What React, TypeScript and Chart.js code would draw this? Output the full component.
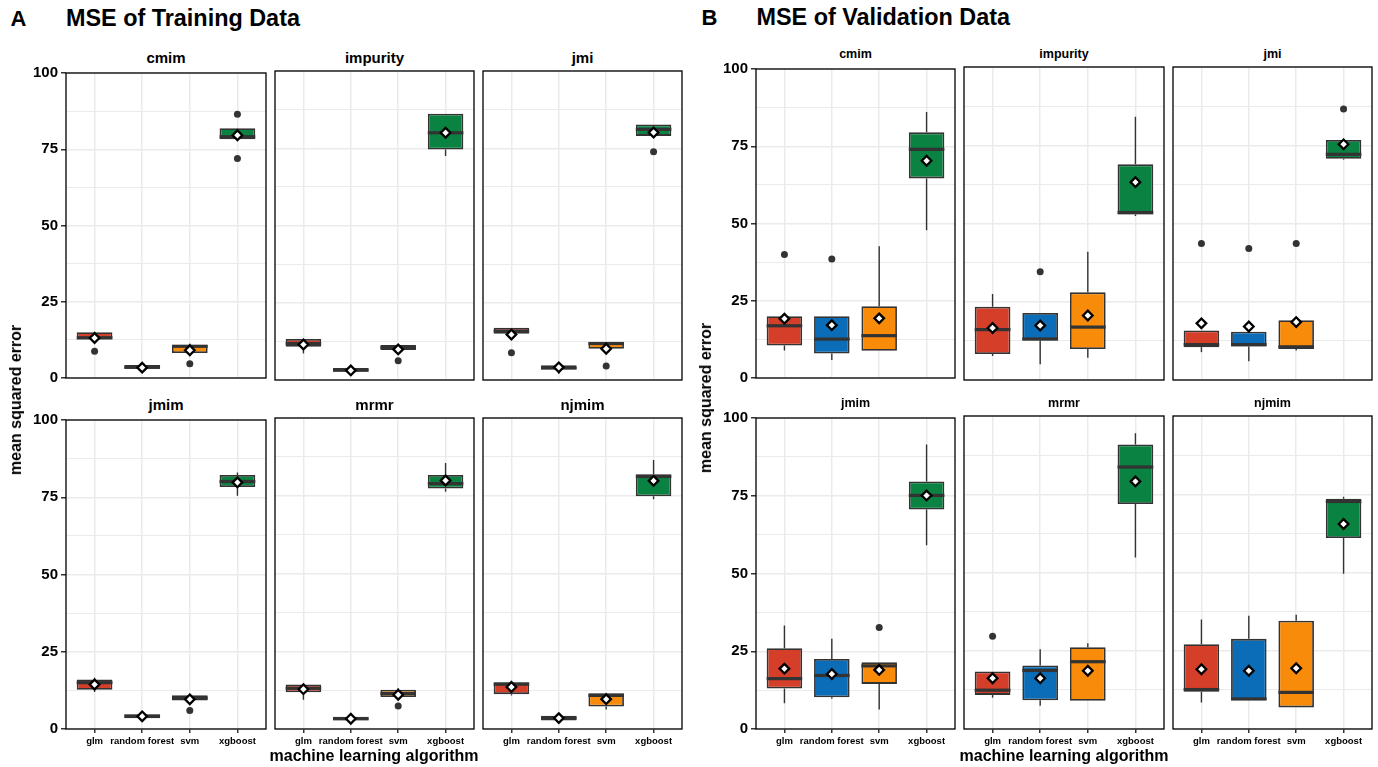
import React, { useEffect, useRef } from "react";
import { Chart, registerables } from "chart.js";

Chart.register(...registerables);

// ---------------- data ----------------
const ALGORITHMS = ["glm", "random forest", "svm", "xgboost"];
const METHODS = ["cmim", "impurity", "jmi", "jmim", "mrmr", "njmim"];
const Y_TICKS = [0, 12.5, 25, 37.5, 50, 62.5, 75, 87.5, 100];

// Training data — one row per feature-selection method, columns: glm, random forest, svm, xgboost
const trainQ1 = [
  [12.6, 3.0, 8.2, 78.3],
  [10.8, 2.7, 9.7, 74.6],
  [15.0, 3.4, 10.1, 79.0],
  [12.7, 3.5, 9.2, 78.3],
  [11.8, 2.8, 10.3, 77.3],
  [11.2, 2.7, 7.2, 74.8],
];
const trainMed = [
  [13.2, 3.5, 10.4, 79.1],
  [11.8, 3.2, 10.5, 80.0],
  [15.8, 3.9, 11.8, 81.1],
  [15.0, 4.2, 10.0, 80.1],
  [13.1, 3.3, 11.4, 78.9],
  [14.4, 3.5, 10.8, 81.2],
];
const trainQ3 = [
  [15.0, 4.3, 10.8, 81.9],
  [13.3, 3.9, 11.3, 86.2],
  [16.9, 4.8, 12.2, 82.7],
  [16.0, 4.7, 10.9, 82.2],
  [14.3, 3.9, 12.6, 81.7],
  [15.0, 4.3, 11.5, 81.9],
];
const trainLo = [
  [12.3, 2.4, 8.0, 78.0],
  [8.6, 2.0, 9.7, 72.5],
  [15.0, 2.0, 10.1, 79.0],
  [12.0, 2.6, 9.2, 75.5],
  [9.4, 2.8, 10.3, 76.3],
  [10.8, 2.7, 6.3, 73.9],
];
const trainHi = [
  [15.2, 4.5, 11.2, 82.0],
  [13.3, 3.9, 11.3, 86.2],
  [16.9, 5.0, 12.2, 82.7],
  [16.6, 4.8, 11.4, 83.0],
  [14.3, 3.9, 13.1, 85.5],
  [15.5, 4.3, 11.5, 86.5],
];
const trainMean = [
  [13.1, 3.4, 9.1, 79.6],
  [11.5, 3.1, 9.9, 80.0],
  [14.7, 4.1, 10.1, 80.1],
  [14.4, 4.1, 9.6, 79.8],
  [12.8, 3.3, 11.0, 79.9],
  [13.5, 3.5, 9.6, 79.8],
];
const trainOut = [
  [[8.8], [], [4.7], [86.5, 72.0]],
  [[], [], [6.2], []],
  [[8.8], [], [4.5], [73.9]],
  [[], [], [6.0], []],
  [[], [], [7.4], []],
  [[], [], [], []],
];

// Validation data
const validQ1 = [
  [10.5, 7.9, 8.8, 64.6],
  [8.3, 12.6, 9.9, 52.9],
  [10.5, 10.7, 9.9, 70.7],
  [13.0, 10.2, 14.5, 70.6],
  [10.9, 9.2, 9.0, 71.9],
  [11.9, 9.2, 6.9, 61.0],
];
const validMed = [
  [16.9, 12.6, 13.7, 74.0],
  [16.1, 13.1, 16.9, 53.5],
  [11.3, 11.3, 10.6, 72.1],
  [16.2, 17.2, 20.3, 75.1],
  [12.4, 18.7, 21.5, 83.7],
  [12.6, 9.6, 11.7, 72.7],
];
const validQ3 = [
  [20.0, 20.0, 23.2, 79.5],
  [23.4, 21.4, 28.0, 68.9],
  [15.8, 15.4, 19.1, 76.7],
  [26.0, 22.5, 21.5, 79.6],
  [18.4, 20.3, 26.1, 90.9],
  [27.1, 28.8, 34.6, 73.6],
];
const validLo = [
  [8.9, 5.8, 8.8, 47.8],
  [7.7, 5.0, 7.1, 52.4],
  [8.9, 6.0, 9.4, 70.4],
  [8.3, 9.7, 6.3, 59.1],
  [10.0, 7.4, 9.0, 54.8],
  [8.5, 9.2, 6.9, 49.6],
];
const validHi = [
  [20.0, 20.0, 42.6, 86.1],
  [27.5, 21.4, 41.0, 84.1],
  [15.8, 15.4, 19.1, 76.7],
  [33.3, 29.0, 21.5, 91.5],
  [18.4, 25.5, 27.4, 94.5],
  [35.0, 36.2, 36.5, 74.2],
];
const validMean = [
  [19.2, 17.1, 19.3, 70.3],
  [16.6, 17.4, 20.6, 63.2],
  [18.1, 17.1, 18.5, 75.3],
  [19.4, 17.7, 19.0, 75.1],
  [16.2, 16.2, 18.6, 79.1],
  [19.1, 18.6, 19.4, 65.5],
];
const validOut = [
  [[40.0], [38.5], [], []],
  [[], [34.6], [], []],
  [[43.6], [42.0], [43.6], [86.6]],
  [[], [], [32.6], []],
  [[29.6], [], [], []],
  [[], [], [], []],
];

// ---------------- styling / layout ----------------
const FONT = '"Liberation Sans", Arial, Helvetica, sans-serif';
const FILLS = ["#D53E28", "#0B6DB7", "#F98B0B", "#0A8241"];
const GRID = "#EBEBEB";
const DARK = "#333333";
const PAD = { l: 12, r: 12, t: 10, b: 10 };

const A_COLS: [number, number][] = [[66, 266], [275, 474], [483, 682]];
const A_ROWS: [number, number][] = [[71, 380], [418, 729]];
const B_COLS: [number, number][] = [[756, 955], [964, 1164], [1173, 1372]];
const B_ROWS: [number, number][] = [[67, 380], [416, 729]];

type PanelProps = {
  l: number; r: number; t: number; b: number;
  showY: boolean; showX: boolean;
  q1: number[]; med: number[]; q3: number[];
  lo: number[]; hi: number[]; mean: number[]; out: number[][];
};

function BoxPanel(p: PanelProps) {
  const ref = useRef<HTMLCanvasElement>(null);
  const yW = p.showY ? 50 : 0;
  const xH = p.showX ? 26 : 0;
  const cw = p.r - p.l + PAD.l + PAD.r + yW;
  const ch = p.b - p.t + PAD.t + PAD.b + xH;
  const cl = p.l - PAD.l - yW;
  const ct = p.t - PAD.t;

  useEffect(() => {
    const canvas = ref.current;
    if (!canvas) return;
    const { q1, med, q3, lo, hi, mean, out, showX, showY } = p;

    const boxPlugin = {
      id: "boxExtras",
      beforeDatasetsDraw(chart: any) {
        const { ctx, scales } = chart;
        const x = scales.x, y = scales.y;
        ctx.save();
        ctx.strokeStyle = DARK;
        ctx.lineWidth = 1.4;
        ALGORITHMS.forEach((_, i) => {
          const px = x.getPixelForValue(i);
          ctx.beginPath();
          ctx.moveTo(px, y.getPixelForValue(lo[i]));
          ctx.lineTo(px, y.getPixelForValue(q1[i]));
          ctx.moveTo(px, y.getPixelForValue(q3[i]));
          ctx.lineTo(px, y.getPixelForValue(hi[i]));
          ctx.stroke();
        });
        ctx.restore();
      },
      afterDatasetDraw(chart: any, args: any) {
        if (args.index !== 0) return;
        const { ctx, scales } = chart;
        const y = scales.y;
        const meta = chart.getDatasetMeta(0);
        ctx.save();
        ctx.fillStyle = DARK;
        meta.data.forEach((el: any, i: number) => {
          const { x: bx, width: bw } = el.getProps(["x", "width"], true);
          const py = y.getPixelForValue(med[i]);
          ctx.fillRect(bx - bw / 2, py - 1.6, bw, 3.2);
        });
        ctx.restore();
      },
      afterDraw(chart: any) {
        const { ctx, chartArea } = chart;
        ctx.save();
        ctx.strokeStyle = "#000";
        ctx.lineWidth = 1.3;
        ctx.strokeRect(chartArea.left, chartArea.top, chartArea.right - chartArea.left, chartArea.bottom - chartArea.top);
        ctx.restore();
      },
    };

    const outlierPts: { x: number; y: number }[] = [];
    out.forEach((list, i) => list.forEach((v) => outlierPts.push({ x: i, y: v })));

    const chart = new Chart(canvas, {
      type: "bar",
      data: {
        datasets: [
          {
            type: "bar",
            data: ALGORITHMS.map((_, i) => ({ x: i, y: [q1[i], q3[i]] })) as any,
            backgroundColor: FILLS,
            borderColor: DARK,
            borderWidth: 1.8,
            borderSkipped: false,
            barPercentage: 0.75,
            categoryPercentage: 1,
            order: 3,
          } as any,
          {
            type: "scatter",
            data: outlierPts,
            pointRadius: 3.5,
            pointBackgroundColor: DARK,
            pointBorderWidth: 0,
            order: 2,
          } as any,
          {
            type: "scatter",
            data: ALGORITHMS.map((_, i) => ({ x: i, y: mean[i] })),
            pointStyle: "rectRot",
            pointRadius: 4.8,
            pointBackgroundColor: "#FFFFFF",
            pointBorderColor: "#000000",
            pointBorderWidth: 2.3,
            order: 1,
          } as any,
        ],
      },
      options: {
        animation: false,
        responsive: false,
        devicePixelRatio: 1,
        events: [],
        layout: { padding: { left: PAD.l, right: PAD.r, top: PAD.t, bottom: PAD.b } },
        plugins: { legend: { display: false }, tooltip: { enabled: false }, title: { display: false } },
        scales: {
          x: {
            type: "linear",
            min: -0.6,
            max: 3.6,
            offset: false,
            afterBuildTicks: (s: any) => {
              s.ticks = ALGORITHMS.map((_, i) => ({ value: i }));
            },
            afterFit: (s: any) => {
              s.height = xH;
            },
            ticks: {
              display: showX,
              autoSkip: false,
              maxRotation: 0,
              padding: 3,
              color: "#000",
              font: { family: FONT, size: 9.5, weight: "bold" },
              callback: (v: any) => ALGORITHMS[Math.round(Number(v))] ?? "",
            },
            grid: { offset: false, color: GRID, lineWidth: 1.5, drawTicks: showX, tickLength: 4, tickColor: DARK },
            border: { display: false },
          } as any,
          y: {
            type: "linear",
            min: 0,
            max: 100,
            afterBuildTicks: (s: any) => {
              s.ticks = Y_TICKS.map((v) => ({ value: v }));
            },
            afterFit: (s: any) => {
              s.width = yW;
            },
            ticks: {
              display: showY,
              padding: 3,
              color: "#000",
              font: { family: FONT, size: 15, weight: "bold" },
              callback: (v: any) => (Number(v) % 25 === 0 ? String(v) : ""),
            },
            grid: {
              color: GRID,
              lineWidth: (c: any) => (c.tick && c.tick.value % 25 === 0 ? 1.5 : 1.1),
              drawTicks: showY,
              tickLength: 5,
              tickColor: (c: any) => (c.tick && c.tick.value % 25 === 0 ? DARK : "rgba(0,0,0,0)"),
            },
            border: { display: false },
          } as any,
        },
      } as any,
      plugins: [boxPlugin as any],
    });
    return () => chart.destroy();
  }, []);

  return (
    <canvas
      ref={ref}
      width={cw}
      height={ch}
      style={{ position: "absolute", left: cl, top: ct, width: cw, height: ch }}
    />
  );
}

function Label(props: { text: string; x: number; baseline: number; size: number; center?: boolean }) {
  const { text, x, baseline, size, center } = props;
  return (
    <div
      style={{
        position: "absolute",
        left: x,
        top: baseline - 0.8465 * size,
        transform: center ? "translateX(-50%)" : undefined,
        fontFamily: FONT,
        fontWeight: 700,
        fontSize: size,
        lineHeight: size + "px",
        whiteSpace: "nowrap",
        color: "#000",
      }}
    >
      {text}
    </div>
  );
}

function VLabel(props: { text: string; cx: number; cy: number; size: number }) {
  const { text, cx, cy, size } = props;
  return (
    <div
      style={{
        position: "absolute",
        left: cx,
        top: cy,
        transform: "translate(-50%, -50%) rotate(-90deg)",
        fontFamily: FONT,
        fontWeight: 700,
        fontSize: size,
        lineHeight: size + "px",
        whiteSpace: "nowrap",
        color: "#000",
      }}
    >
      {text}
    </div>
  );
}

function Group(props: {
  cols: [number, number][]; rows: [number, number][]; stripSize: number;
  q1: number[][]; med: number[][]; q3: number[][]; lo: number[][]; hi: number[][];
  mean: number[][]; out: number[][][];
}) {
  const { cols, rows, stripSize } = props;
  return (
    <>
      {METHODS.map((m, k) => {
        const row = Math.floor(k / 3);
        const col = k % 3;
        const [l, r] = cols[col];
        const [t, b] = rows[row];
        return (
          <React.Fragment key={m}>
            <Label text={m} x={(l + r) / 2} baseline={t - 8} size={stripSize} center />
            <BoxPanel
              l={l} r={r} t={t} b={b}
              showY={col === 0} showX={row === 1}
              q1={props.q1[k]} med={props.med[k]} q3={props.q3[k]}
              lo={props.lo[k]} hi={props.hi[k]} mean={props.mean[k]} out={props.out[k]}
            />
          </React.Fragment>
        );
      })}
    </>
  );
}

export default function App() {
  return (
    <div style={{ position: "absolute", left: 0, top: 0, width: 1378, height: 767, background: "#fff", overflow: "hidden" }}>
      <Label text="A" x={10.5} baseline={26.7} size={22} />
      <Label text="MSE of Training Data" x={66} baseline={26.7} size={23.4} />
      <Label text="B" x={701.5} baseline={26} size={22} />
      <Label text="MSE of Validation Data" x={756.5} baseline={26} size={23.4} />

      <Group
        cols={A_COLS} rows={A_ROWS} stripSize={15}
        q1={trainQ1} med={trainMed} q3={trainQ3} lo={trainLo} hi={trainHi} mean={trainMean} out={trainOut}
      />
      <Group
        cols={B_COLS} rows={B_ROWS} stripSize={12.5}
        q1={validQ1} med={validMed} q3={validQ3} lo={validLo} hi={validHi} mean={validMean} out={validOut}
      />

      <VLabel text="mean squared error" cx={16.2} cy={400} size={16} />
      <VLabel text="mean squared error" cx={706} cy={398} size={16} />
      <Label text="machine learning algorithm" x={374} baseline={761.7} size={16} center />
      <Label text="machine learning algorithm" x={1064} baseline={761.7} size={16} center />
    </div>
  );
}
